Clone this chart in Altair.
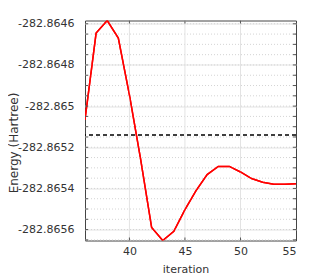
import altair as alt
import pandas as pd

iterations = list(range(36, 56))
energy = [-282.865066, -282.864645, -282.864584, -282.864669, -282.864945,
          -282.865255, -282.865590, -282.865653, -282.865608, -282.865503,
          -282.865411, -282.865333, -282.865293, -282.865293, -282.865320,
          -282.865352, -282.865370, -282.865380, -282.865380, -282.865377]
reference_energy = -282.86514
y_major = [-282.8646, -282.8648, -282.865, -282.8652, -282.8654, -282.8656]
y_minor = [-282.8646 - 0.00005 * k for k in range(0, 22)]
x_major = [40, 45, 50, 55]

df = pd.DataFrame({"iteration": iterations, "energy": energy})
ymin, ymax = min(energy), max(energy)
minor_df = pd.DataFrame({"energy": [v for v in y_minor if ymin <= v <= ymax]})
xg_df = pd.DataFrame({"iteration": [40, 45, 50]})
ref_df = pd.DataFrame({"energy": [reference_energy]})

FONT = "DejaVu Sans"
W, H = 211, 220
xs = alt.Scale(domain=[36, 55], nice=False)
ys = alt.Scale(domain=[ymin, ymax], nice=False, zero=False)
xaxis = alt.Axis(title="iteration", values=x_major, grid=False, tickSize=0,
                 labelPadding=5, domain=False, titleFontSize=11,
                 titleX=100.5, titleY=31.5, titleBaseline="alphabetic")
yaxis = alt.Axis(title="Energy (Hartree)", values=y_major,
                 labelExpr="'-' + format(abs(datum.value), '.4~f')",
                 grid=True, gridColor="#e3e3e3", tickSize=0, labelPadding=11,
                 domain=False, titleFontSize=12, titleAngle=270,
                 titleX=-67.5, titleY=122, titleAlign="center", titleBaseline="alphabetic")
X = alt.X("iteration:Q", scale=xs, axis=xaxis)
Y = alt.Y("energy:Q", scale=ys, axis=yaxis)

minor_grid = alt.Chart(minor_df).mark_rule(color="#d4d4d4", strokeDash=[1, 2], strokeWidth=1).encode(y=Y)
xgrid = alt.Chart(xg_df).mark_rule(color="#e3e3e3", strokeWidth=1).encode(x=X)
left_ticks = alt.Chart(minor_df).mark_rule(color="#555555", strokeWidth=1).encode(
    y=Y, x=alt.value(0), x2=alt.value(3))
right_ticks = alt.Chart(minor_df).mark_rule(color="#555555", strokeWidth=1).encode(
    y=Y, x=alt.value(W - 3), x2=alt.value(W))
top_ticks = alt.Chart(xg_df).mark_rule(color="#555555", strokeWidth=1).encode(
    x=X, y=alt.value(0), y2=alt.value(3))
bot_ticks = alt.Chart(xg_df).mark_rule(color="#555555", strokeWidth=1).encode(
    x=X, y=alt.value(H - 3), y2=alt.value(H))
ref = alt.Chart(ref_df).mark_rule(color="black", strokeDash=[4, 3], strokeWidth=1.5).encode(y=Y)
line = alt.Chart(df).mark_line(color="#ff0000", strokeWidth=1.5, clip=True).encode(x=X, y=Y)

chart = alt.layer(
    line, minor_grid, xgrid, ref, line, left_ticks, right_ticks, top_ticks, bot_ticks
).properties(
    width=W, height=H,
    autosize=alt.AutoSizeParams(type="none"),
    padding={"left": 77, "top": 12.5, "right": 23, "bottom": 34},
    background="white",
).configure_view(
    stroke="#444444", strokeWidth=1
).configure_axis(
    labelFont=FONT, titleFont=FONT, labelFontSize=11,
    labelColor="#333333", titleColor="#333333", titleFontWeight="normal"
)

chart.save("out.html", embed_options={"renderer": "svg", "actions": False})
